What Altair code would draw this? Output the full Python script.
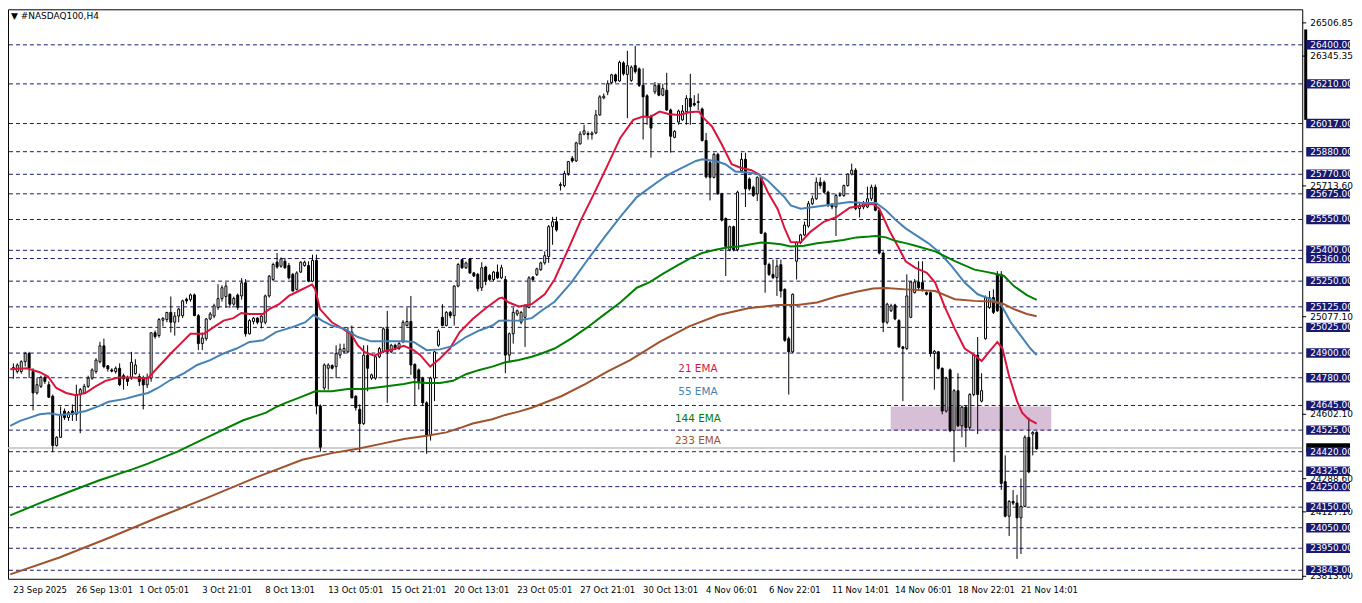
import altair as alt
import pandas as pd

# ---------------- data ----------------
opens = [24820, 24810, 24810, 24858, 24898, 24810, 24706, 24738, 24782, 24746,
         24690, 24450, 24490, 24618, 24586, 24618, 24602, 24698, 24706, 24738,
         24778, 24810, 24858, 24935, 24838, 24818, 24810, 24826, 24790, 24778,
         24778, 24800, 24786, 24775, 24745, 24778, 24999, 24985, 25060, 25063,
         25098, 25050, 25080, 25082, 25162, 25160, 25183, 25082, 24946, 24970,
         25066, 25080, 25122, 25165, 25175, 25186, 25138, 25182, 25178, 25242,
         24994, 25054, 25070, 25050, 25050, 25178, 25258, 25342, 25323, 25347,
         25326, 25283, 25210, 25294, 25326, 25326, 25250, 25351, 24642, 24730,
         24826, 24839, 24834, 24890, 24906, 24906, 25002, 24690, 24626, 24557,
         24890, 24778, 24778, 24882, 24906, 25018, 24906, 24938, 24922, 24954,
         25034, 25054, 24845, 24818, 24778, 24658, 24498, 24778, 24938, 25074,
         25034, 25098, 25082, 25226, 25355, 25315, 25358, 25290, 25283, 25218,
         25319, 25278, 25258, 25294, 25266, 25258, 24890, 24994, 25090, 25050,
         25074, 25122, 25270, 25282, 25306, 25339, 25370, 25515, 25539, 25715,
         25715, 25774, 25848, 25835, 25918, 25966, 25968, 25963, 25971, 26059,
         26142, 26171, 26216, 26254, 26224, 26312, 26256, 26227, 26299, 26283,
         26203, 26152, 26051, 26171, 26203, 26155, 26179, 26083, 25950, 26024,
         26035, 26075, 26139, 26115, 26123, 26088, 25934, 25827, 25755, 25867,
         25675, 25555, 25403, 25515, 25403, 25787, 25843, 25747, 25707, 25675,
         25755, 25483, 25331, 25283, 25267, 25330, 25210, 24970, 24906, 25347,
         25438, 25475, 25518, 25627, 25651, 25731, 25731, 25683, 25619, 25611,
         25667, 25667, 25715, 25771, 25790, 25603, 25611, 25611, 25651, 25707,
         25595, 25387, 25050, 25106, 25134, 25058, 24930, 24922, 25074, 25194,
         25246, 25243, 25194, 25194, 24898, 24906, 24826, 24618, 24818, 24522,
         24717, 24546, 24637, 24538, 24698, 24890, 24666, 24970, 25122, 25170,
         25283, 25283, 24274, 24106, 24178, 24170, 24098, 24154, 24490, 24506,
         24514]
highs = [24850, 24850, 24865, 24906, 24906, 24826, 24778, 24790, 24790, 24762,
         24698, 24495, 24640, 24630, 24618, 24650, 24746, 24730, 24750, 24790,
         24826, 24875, 24955, 24970, 24840, 24826, 24835, 24850, 24800, 24790,
         24906, 24870, 24800, 24790, 24800, 25000, 25010, 25070, 25075, 25100,
         25175, 25100, 25120, 25160, 25170, 25190, 25190, 25090, 25000, 25070,
         25100, 25140, 25235, 25230, 25245, 25190, 25175, 25190, 25265, 25260,
         25065, 25075, 25075, 25085, 25185, 25280, 25340, 25387, 25365, 25363,
         25339, 25290, 25298, 25347, 25350, 25347, 25379, 25379, 24650, 24850,
         24850, 24845, 24938, 24946, 24946, 25026, 25034, 24695, 24650, 24938,
         24938, 24800, 24890, 24930, 25026, 25106, 24945, 24946, 24955, 25060,
         25122, 25178, 24850, 24825, 24785, 24665, 24785, 24910, 25015, 25138,
         25105, 25105, 25230, 25339, 25358, 25345, 25363, 25295, 25290, 25342,
         25325, 25285, 25300, 25331, 25330, 25275, 25000, 25122, 25112, 25105,
         25138, 25274, 25275, 25315, 25345, 25395, 25523, 25563, 25563, 25731,
         25787, 25835, 25859, 25928, 25979, 26011, 25979, 25979, 26083, 26155,
         26163, 26227, 26259, 26260, 26323, 26320, 26371, 26300, 26395, 26290,
         26286, 26160, 26060, 26219, 26210, 26211, 26264, 26090, 25985, 26085,
         26107, 26155, 26259, 26155, 26163, 26095, 25971, 25835, 25875, 25875,
         25680, 25560, 25520, 25520, 25690, 25875, 25875, 25755, 25715, 25760,
         25760, 25490, 25340, 25355, 25355, 25355, 25215, 24980, 25190, 25445,
         25480, 25540, 25640, 25667, 25755, 25755, 25740, 25690, 25630, 25675,
         25683, 25720, 25775, 25822, 25800, 25630, 25640, 25710, 25720, 25720,
         25600, 25395, 25145, 25140, 25140, 25065, 24935, 25283, 25250, 25260,
         25347, 25347, 25200, 25200, 24915, 24910, 24830, 24785, 24825, 24725,
         24802, 24645, 24645, 24705, 24895, 24978, 24802, 25180, 25202, 25210,
         25299, 25299, 24402, 24185, 24234, 24210, 24290, 24500, 24586, 24520,
         24520]
lows = [24775, 24800, 24800, 24835, 24778, 24621, 24698, 24730, 24750, 24682,
        24418, 24445, 24490, 24575, 24570, 24570, 24570, 24510, 24700, 24730,
        24770, 24800, 24850, 24826, 24810, 24806, 24800, 24740, 24722, 24740,
        24770, 24795, 24740, 24626, 24730, 24760, 24970, 24975, 25030, 25050,
        25000, 24985, 25050, 25070, 25140, 25150, 25080, 24915, 24915, 24960,
        25060, 25070, 25110, 25150, 25120, 25120, 25130, 25110, 25160, 24980,
        24990, 25040, 25040, 25020, 25040, 25170, 25250, 25310, 25315, 25310,
        25258, 25200, 25205, 25290, 25320, 25245, 25245, 24602, 24420, 24720,
        24722, 24820, 24778, 24874, 24898, 24900, 24680, 24620, 24418, 24550,
        24714, 24770, 24770, 24875, 24900, 24658, 24900, 24915, 24915, 24950,
        25030, 24794, 24642, 24722, 24642, 24410, 24474, 24666, 24930, 25030,
        25030, 25070, 25034, 25220, 25310, 25310, 25285, 25270, 25200, 25202,
        25230, 25250, 25250, 25260, 25260, 24802, 24858, 24946, 25080, 25040,
        24930, 25118, 25250, 25275, 25300, 25330, 25339, 25427, 25491, 25691,
        25707, 25763, 25827, 25830, 25915, 25960, 25939, 25939, 25965, 26055,
        26135, 26155, 26210, 26215, 26220, 26250, 26043, 26220, 26260, 26195,
        25939, 26011, 25851, 26160, 26150, 26150, 26078, 25875, 25945, 26011,
        26030, 26011, 26011, 26100, 26083, 25930, 25750, 25643, 25750, 25670,
        25540, 25275, 25395, 25395, 25395, 25780, 25611, 25690, 25660, 25640,
        25480, 25194, 25275, 25260, 25178, 25170, 24955, 24698, 24900, 25258,
        25430, 25470, 25510, 25620, 25645, 25700, 25675, 25610, 25600, 25470,
        25660, 25660, 25710, 25765, 25595, 25560, 25600, 25605, 25640, 25590,
        25380, 25002, 25040, 25100, 25060, 24925, 24666, 24915, 25070, 25190,
        25210, 25200, 25180, 24882, 24722, 24820, 24602, 24610, 24515, 24370,
        24540, 24490, 24442, 24522, 24690, 24506, 24660, 24965, 25115, 25090,
        25100, 24234, 24100, 24010, 24160, 23898, 23922, 24150, 24315, 24402,
        24430]
closes = [24830, 24842, 24858, 24898, 24826, 24706, 24746, 24782, 24762, 24685,
          24450, 24490, 24602, 24586, 24610, 24602, 24698, 24722, 24738, 24778,
          24818, 24866, 24935, 24834, 24823, 24812, 24826, 24746, 24774, 24762,
          24855, 24842, 24762, 24745, 24780, 24999, 24980, 25063, 25069, 25098,
          25050, 25080, 25114, 25154, 25154, 25183, 25082, 24946, 24973, 25066,
          25090, 25130, 25165, 25218, 25226, 25138, 25166, 25122, 25242, 24994,
          25058, 25070, 25050, 25080, 25178, 25274, 25331, 25319, 25358, 25315,
          25266, 25202, 25290, 25342, 25342, 25250, 25351, 24642, 24442, 24842,
          24842, 24826, 24898, 24919, 24922, 25002, 24682, 24634, 24557, 24890,
          24826, 24794, 24882, 24922, 25018, 24906, 24938, 24922, 24946, 25050,
          25054, 24842, 24778, 24762, 24658, 24498, 24778, 24906, 25006, 25034,
          25098, 25082, 25226, 25331, 25315, 25339, 25290, 25275, 25214, 25315,
          25250, 25258, 25294, 25266, 25315, 24890, 24994, 25098, 25106, 25098,
          25130, 25266, 25258, 25310, 25339, 25374, 25515, 25539, 25499, 25720,
          25774, 25832, 25835, 25923, 25966, 25982, 25963, 25971, 26059, 26147,
          26150, 26211, 26254, 26224, 26315, 26259, 26299, 26291, 26270, 26203,
          26147, 26051, 25995, 26203, 26155, 26187, 26083, 25955, 25979, 26078,
          26078, 26139, 26099, 26107, 26120, 25934, 25758, 25755, 25867, 25675,
          25547, 25419, 25515, 25403, 25683, 25843, 25699, 25699, 25667, 25755,
          25483, 25331, 25283, 25267, 25323, 25202, 24962, 24906, 25186, 25438,
          25475, 25523, 25627, 25651, 25731, 25715, 25683, 25619, 25611, 25667,
          25670, 25715, 25771, 25790, 25603, 25619, 25627, 25651, 25707, 25595,
          25387, 25050, 25138, 25130, 25066, 24930, 24922, 25178, 25246, 25246,
          25218, 25210, 25186, 24898, 24909, 24826, 24618, 24778, 24522, 24717,
          24546, 24637, 24538, 24698, 24890, 24698, 24717, 25170, 25170, 25098,
          25106, 24266, 24106, 24178, 24170, 24098, 24154, 24490, 24322, 24514,
          24434]

ema21_bar = [-0.8, 3.4, 6.7, 8.8, 10.9, 13.4, 15.9, 18.4, 20.9, 23.4, 26.7, 30, 34.2, 36.7, 40,
             42.5, 45, 48.4, 50.9, 53.4, 55.9, 57.9, 60, 63.4, 65, 67.5, 70, 72.5, 75.9, 76.7,
             77.9, 80.9, 83.4, 85.9, 87.5, 89.2, 91.7, 94.2, 96.7, 99.2, 101.7, 103.4, 105.9,
             108.4, 110.9, 113.4, 116.7, 120, 123.4, 124.2, 125.9, 128.4, 131.7, 135, 137.5,
             140.9, 144.2, 147.5, 150.9, 154.2, 157.5, 160, 161.7, 164.2, 166.7, 169.2, 171.7,
             174.2, 175.4, 177.5, 180, 182.5, 184.6, 187.5, 189.6, 191.7, 194.2, 196, 197.5,
             200, 202.5, 205.9, 209.2, 212.5, 215.9, 218.4, 220, 222.5, 225, 226.7, 229.2,
             232.1, 234.2, 236.7, 239.2, 241.7, 244.2, 246, 247.9, 250, 251.3, 252.9, 255,
             256.3, 257.9, 260]
ema21_val = [24821, 24826, 24807, 24786, 24730, 24706, 24695, 24706, 24738, 24765, 24781, 24781,
             24778, 24830, 24898, 24946, 24994, 24994, 25026, 25058, 25070, 25095, 25090, 25090,
             25114, 25138, 25178, 25202, 25234, 25210, 25114, 25050, 25022, 24990, 24938, 24906,
             24887, 24909, 24919, 24935, 24914, 24890, 24834, 24874, 24922, 25002, 25066, 25118,
             25166, 25170, 25146, 25127, 25138, 25186, 25258, 25402, 25547, 25675, 25811, 25947,
             26035, 26051, 26048, 26075, 26062, 26059, 26072, 26075, 26043, 26003, 25915, 25819,
             25803, 25790, 25768, 25683, 25600, 25505, 25440, 25438, 25490, 25539, 25563, 25607,
             25619, 25627, 25603, 25499, 25410, 25347, 25315, 25290, 25243, 25122, 25018, 24922,
             24890, 24861, 24906, 24954, 24922, 24794, 24666, 24610, 24578, 24557]

ema55_bar = [-0.8, 1.7, 4.2, 6.7, 9.2, 11.7, 15, 18.4, 21.7, 24.2, 28.4, 31.7, 34.2, 36.7, 40,
             43.4, 46.7, 50, 53.4, 56.7, 60, 63.4, 66.7, 70.9, 74.2, 76.3, 78.4, 80.9, 84.2,
             87.5, 90.9, 95.9, 99.2, 101.7, 105, 108.4, 111.7, 115, 118.4, 121.7, 123.4, 128.4,
             131.7, 134.2, 137.5, 141.7, 145.9, 150, 154.2, 158.4, 161.7, 164.2, 166.7, 170,
             173.4, 175, 178.4, 180.9, 183.4, 186.7, 189.2, 191.7, 194.2, 195.9, 197.5, 200,
             203.4, 207.5, 212.5, 215.9, 219.2, 221.7, 224.2, 226.7, 229.2, 232.5, 235, 238.4,
             241.7, 245, 248.4, 250.9, 253.4, 255.9, 258.4, 260]
ema55_val = [24546, 24570, 24586, 24602, 24607, 24599, 24605, 24618, 24642, 24663, 24677, 24695,
             24706, 24730, 24770, 24802, 24842, 24866, 24898, 24922, 24954, 24962, 25002, 25026,
             25050, 25086, 25058, 25034, 25018, 24978, 24957, 24957, 24957, 24954, 24914, 24918,
             24935, 24978, 25010, 25034, 25057, 25059, 25070, 25106, 25150, 25242, 25354, 25459,
             25563, 25659, 25705, 25740, 25771, 25803, 25835, 25843, 25835, 25819, 25784, 25779,
             25771, 25739, 25691, 25659, 25619, 25603, 25611, 25622, 25635, 25630, 25630, 25595,
             25547, 25507, 25475, 25434, 25395, 25323, 25243, 25186, 25162, 25138, 25050, 24986,
             24922, 24890]

ema144_bar = [-0.8, 6.7, 14.2, 21.7, 30, 34.2, 41.7, 49.2, 58.4, 64.2, 66.7, 69.2, 72.5, 76.7,
              80.9, 85, 89.2, 93.4, 99.2, 101.7, 105, 108.4, 111.7, 115, 118.4, 121.7, 125,
              128.4, 131.7, 134.2, 137.5, 141.7, 145.9, 150, 154.2, 158.4, 161.7, 165, 168.4,
              171.7, 175, 178.4, 181.7, 184.2, 186.7, 190, 192.5, 195, 197.5, 200.9, 204.2,
              207.5, 210.9, 214.2, 217.5, 219.2, 221.7, 224.2, 226.7, 229.2, 234.2, 239.2,
              244.2, 247.5, 249.2, 251.7, 254.2, 257.5, 260]
ema144_val = [24110, 24170, 24225, 24280, 24333, 24362, 24420, 24490, 24573, 24610, 24637, 24658,
              24682, 24714, 24714, 24725, 24725, 24735, 24749, 24759, 24754, 24754, 24765, 24797,
              24818, 24834, 24855, 24866, 24882, 24898, 24922, 24970, 25026, 25086, 25146, 25218,
              25245, 25285, 25323, 25358, 25387, 25403, 25415, 25419, 25427, 25438, 25435, 25430,
              25419, 25422, 25434, 25442, 25450, 25463, 25467, 25470, 25463, 25445, 25435, 25422,
              25395, 25347, 25306, 25294, 25287, 25275, 25226, 25182, 25159]

ema233_bar = [-0.8, 11.7, 24.2, 36.7, 49.2, 61.7, 73.4, 80.9, 87.5, 93.4, 99.2, 105, 110, 113.4,
              116.7, 121.7, 125, 128.4, 131.7, 139.2, 145.4, 150.9, 156.7, 164.2, 171.7, 179.2,
              186.7, 194.2, 199.2, 204.2, 209.2, 214.2, 218.4, 221.7, 226.7, 234.2, 239.2, 244.2,
              249.2, 251.7, 254.2, 257.5, 260]
ema233_val = [23823, 23905, 24000, 24100, 24195, 24295, 24381, 24413, 24434, 24458, 24482, 24498,
              24514, 24535, 24557, 24578, 24599, 24615, 24634, 24690, 24750, 24810, 24866, 24954,
              25030, 25085, 25118, 25134, 25134, 25146, 25175, 25198, 25214, 25217, 25210, 25202,
              25162, 25154, 25150, 25138, 25114, 25090, 25079]

ema_names = ["21 EMA", "55 EMA", "144 EMA", "233 EMA"]
ema_colors = ["#dc143c", "#4682b4", "#008000", "#a0522d"]

level_prices = [26400, 26210, 26017, 25880, 25770, 25675, 25550, 25400, 25360, 25250, 25125,
                25025, 24900, 24780, 24645, 24525, 24420, 24325, 24250, 24150, 24050, 23950, 23843]
axis_prices = [26506.85, 26345.35, 25713.60, 25077.10, 24602.10, 24288.60, 24127.10, 23813.60]
bid_price = [24438.6]
scale_bar = [26475, 26035]

zone_bar = [222.9, 263.7]
zone_price = [24640, 24523]

date_bars = [0, 16, 32, 48, 64, 80, 96, 112, 128, 144, 160, 176, 192, 208, 224, 240, 256]
date_labels = ["23 Sep 2025", "26 Sep 13:01", "1 Oct 05:01", "3 Oct 21:01", "8 Oct 13:01",
               "13 Oct 05:01", "15 Oct 21:01", "20 Oct 13:01", "23 Oct 05:01", "27 Oct 21:01",
               "30 Oct 13:01", "4 Nov 06:01", "6 Nov 22:01", "11 Nov 14:01", "14 Nov 06:01",
               "18 Nov 22:01", "21 Nov 14:01"]
title_text = "▼  #NASDAQ100,H4"

# ---------------- chart ----------------
W, H = 1300, 572
FONT = "DejaVu Sans"
NAVY = "#191970"
xsc = alt.Scale(domain=[-0.1, 326.2], nice=False, zero=False)
ysc = alt.Scale(domain=[23801.6, 26572.9], nice=False, zero=False)


def X(f):
    return alt.X(f, scale=xsc, axis=None)


def Y(f):
    return alt.Y(f, scale=ysc, axis=None)


candles = pd.DataFrame({"bar": list(range(len(opens))), "open": opens, "high": highs,
                        "low": lows, "close": closes})
ema_frames = []
for nm, bars, vals in zip(ema_names, [ema21_bar, ema55_bar, ema144_bar, ema233_bar],
                          [ema21_val, ema55_val, ema144_val, ema233_val]):
    ema_frames.append(pd.DataFrame({"series": nm, "bar": bars, "price": vals}))
ema_df = pd.concat(ema_frames, ignore_index=True)

zone = alt.Chart(pd.DataFrame({"b1": [zone_bar[0]], "b2": [zone_bar[1]],
                               "p1": [zone_price[0]], "p2": [zone_price[1]]})).mark_rect(
    color="#d8bfd8").encode(x=X("b1:Q"), x2="b2:Q", y=Y("p1:Q"), y2="p2:Q")

levels_df = pd.DataFrame({"price": level_prices})
levels = alt.Chart(levels_df).mark_rule(color=NAVY, strokeWidth=1, strokeDash=[4, 3]).encode(
    y=Y("price:Q"))

bid_df = pd.DataFrame({"price": bid_price})
bid = alt.Chart(bid_df).mark_rule(color="#c0c0c0", strokeWidth=1.5).encode(y=Y("price:Q"))

wicks = alt.Chart(candles).mark_rule(color="black", strokeWidth=1).encode(
    x=X("bar:Q"), y=Y("low:Q"), y2="high:Q")
bodies = alt.Chart(candles).mark_bar(size=2, stroke="black", strokeWidth=1).encode(
    x=X("bar:Q"), y=Y("open:Q"), y2="close:Q",
    fill=alt.condition("datum.close >= datum.open", alt.value("white"), alt.value("black")))

emas = alt.Chart(ema_df).mark_line(strokeWidth=2, clip=True).encode(
    x=X("bar:Q"), y=Y("price:Q"),
    color=alt.Color("series:N", scale=alt.Scale(domain=ema_names, range=ema_colors), legend=None),
    order="bar:Q")

ema_label_pos = [(693, 361), (693, 384), (693, 412), (693, 434)]
ema_texts = []
for nm, col, (px, py) in zip(ema_names, ema_colors, ema_label_pos):
    ema_texts.append(alt.Chart(pd.DataFrame({"t": [nm]})).mark_text(
        font=FONT, fontSize=10.5, color=col, align="center", baseline="middle").encode(
        x=alt.value(px), y=alt.value(py), text="t:N"))

title = alt.Chart(pd.DataFrame({"t": [title_text]})).mark_text(
    font=FONT, fontSize=9, color="black", align="left", baseline="middle").encode(
    x=alt.value(3), y=alt.value(7), text="t:N")

# right price scale
axis_df = pd.DataFrame({"price": axis_prices})
axis_ticks = alt.Chart(axis_df).mark_rule(color="black").encode(
    x=alt.value(W), x2=alt.value(W + 4), y=Y("price:Q"))
axis_text = alt.Chart(axis_df).mark_text(
    font=FONT, fontSize=9, color="black", align="left", baseline="middle").encode(
    x=alt.value(W + 8), y=Y("price:Q"), text=alt.Text("price:Q", format=".2f"))

sbar = alt.Chart(pd.DataFrame({"a": [scale_bar[0]], "b": [scale_bar[1]]})).mark_rule(
    color="black", strokeWidth=3).encode(x=alt.value(W + 3.5), y=Y("a:Q"), y2="b:Q")

bid_box = alt.Chart(bid_df).transform_calculate(
    lo="datum.price - 23", hi="datum.price + 23").mark_rect(color="black").encode(
    x=alt.value(W + 4), x2=alt.value(W + 48), y=Y("lo:Q"), y2="hi:Q")

lvl_box = alt.Chart(levels_df).transform_calculate(
    lo="datum.price - 23", hi="datum.price + 23").mark_rect(color=NAVY).encode(
    x=alt.value(W + 4), x2=alt.value(W + 48), y=Y("lo:Q"), y2="hi:Q")
lvl_text = alt.Chart(levels_df).mark_text(
    font=FONT, fontSize=9, color="white", align="left", baseline="middle").encode(
    x=alt.value(W + 8), y=Y("price:Q"), text=alt.Text("price:Q", format=".2f"))

# time axis
dates_df = pd.DataFrame({"bar": date_bars, "label": date_labels})
date_text = alt.Chart(dates_df).mark_text(
    font=FONT, fontSize=8.5, color="black", align="left", baseline="middle").encode(
    x=X("bar:Q"), y=alt.value(H + 11), text="label:N")

chart = alt.layer(
    zone, levels, bid, wicks, bodies, emas, *ema_texts, title,
    axis_ticks, axis_text, sbar, bid_box, lvl_box, lvl_text, date_text
).properties(
    width=W, height=H,
    padding={"left": 0, "top": 0, "right": 52, "bottom": 20},
    autosize=alt.AutoSizeParams(type="none"),
    background="white",
).configure_view(stroke="black", strokeWidth=1)

chart.save("out.html", embed_options={"renderer": "svg", "actions": False})
